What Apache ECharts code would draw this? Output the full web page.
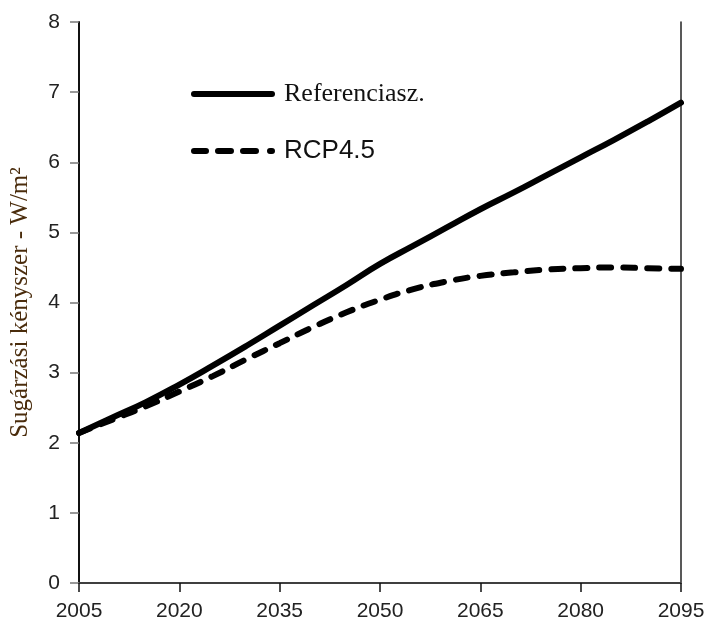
<!DOCTYPE html>
<html>
<head>
<meta charset="utf-8">
<script src="https://cdn.jsdelivr.net/npm/echarts@6/dist/echarts.min.js"></script>
<style>html,body{margin:0;padding:0;background:#fff;}#c{width:708px;height:622px;}</style>
</head>
<body>
<div id="c"></div>
<script>
const years = [2005,2010,2015,2020,2025,2030,2035,2040,2045,2050,2055,2060,2065,2070,2075,2080,2085,2090,2095];
const referencia = [2.14,2.36,2.58,2.83,3.10,3.38,3.67,3.96,4.25,4.55,4.81,5.07,5.33,5.57,5.82,6.07,6.32,6.58,6.85];
const rcp45 = [2.14,2.33,2.52,2.73,2.95,3.19,3.42,3.65,3.86,4.04,4.19,4.30,4.38,4.43,4.47,4.49,4.50,4.49,4.48];
const seriesNames = ['Referenciasz.','RCP4.5'];
const xTicks = [2005,2020,2035,2050,2065,2080,2095];
const yTitle = 'Sugárzási kényszer - W/m²';

// capsule-shaped segments for legend icons (height 6)
function capsule(x0, x1) {
  const r = 3;
  return 'M' + (x0 + r) + ',0 H' + (x1 - r) + ' A3,3 0 0 1 ' + (x1 - r) + ',6 H' + (x0 + r) + ' A3,3 0 0 1 ' + (x0 + r) + ',0 Z ';
}
const solidIcon = 'path://' + capsule(0, 84);
const dashedIcon = 'path://' + capsule(0, 18) + capsule(24, 43) + capsule(49, 68) + capsule(76, 84);

const chart = echarts.init(document.getElementById('c'));
chart.setOption({
  animation:false,
  backgroundColor:'#fff',
  grid:{left:77,right:27,top:22,bottom:38},
  legend:[{
    left:186, top:76, itemWidth:84, itemHeight:6,
    data:[{name:seriesNames[0], icon:solidIcon,
      textStyle:{fontFamily:'Liberation Serif', fontSize:26, color:'#111', padding:[0,0,0,4]}}]
  },{
    left:186, top:133, itemWidth:84, itemHeight:6,
    data:[{name:seriesNames[1], icon:dashedIcon,
      textStyle:{fontFamily:'Liberation Sans', fontSize:26, color:'#111', padding:[0,0,0,4]}}]
  }],
  xAxis:[{
    type:'value', min:2005, max:2095, interval:15,
    axisLine:{show:true,onZero:false,lineStyle:{color:'#999',width:2}},
    axisTick:{show:true,length:9,lineStyle:{color:'#111',width:1.5}},
    axisLabel:{margin:18,fontFamily:'Liberation Sans',fontSize:21,color:'#222',
      formatter:v=>xTicks.includes(v)?String(v):''},
    splitLine:{show:false}
  },{
    type:'value', position:'top', min:2005, max:2095,
    axisLine:{show:true,lineStyle:{color:'#222',width:1.5}},
    axisTick:{show:false}, axisLabel:{show:false}, splitLine:{show:false}
  }],
  yAxis:[{
    type:'value', min:0, max:8, interval:1,
    name:yTitle, nameLocation:'middle', nameGap:46,
    nameTextStyle:{fontFamily:'Liberation Serif',fontSize:25,color:'#4a2c0c'},
    axisLine:{show:true,lineStyle:{color:'#111',width:2}},
    axisTick:{show:true,length:9,lineStyle:{color:'#777',width:1.5}},
    axisLabel:{margin:19,fontFamily:'Liberation Sans',fontSize:21,color:'#222'},
    splitLine:{show:false}
  },{
    type:'value', position:'right', min:0, max:8,
    axisLine:{show:true,lineStyle:{color:'#222',width:1.5}},
    axisTick:{show:false}, axisLabel:{show:false}, splitLine:{show:false}
  }],
  series:[
    {name:seriesNames[0], type:'line', smooth:true, symbol:'none',
     data:years.map((y,i)=>[y,referencia[i]]),
     lineStyle:{color:'#000',width:6,cap:'round'}, itemStyle:{color:'#000'}},
    {name:seriesNames[1], type:'line', smooth:true, symbol:'none',
     data:years.map((y,i)=>[y,rcp45[i]]),
     lineStyle:{color:'#000',width:6,type:[12,12],cap:'round'}, itemStyle:{color:'#000'}}
  ]
});
</script>
</body>
</html>
